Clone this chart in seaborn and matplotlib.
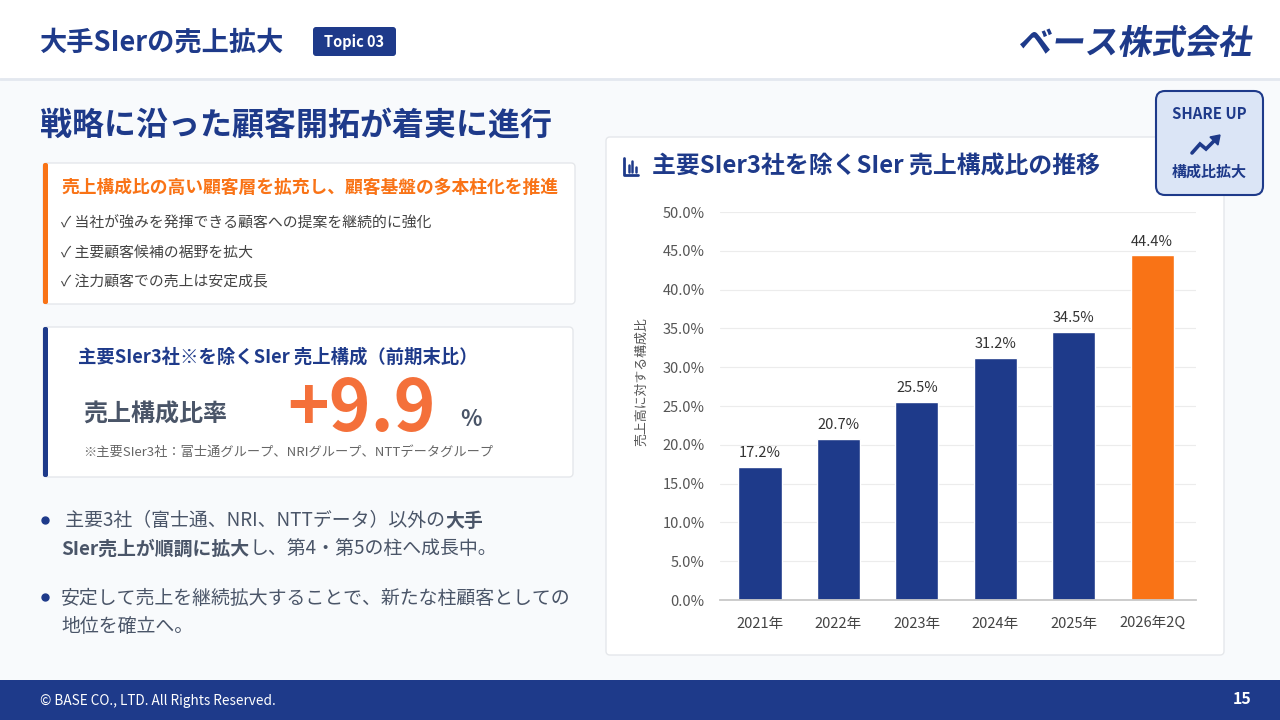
import numpy as np
import pandas as pd
import seaborn as sns
import matplotlib
matplotlib.use("Agg")
import matplotlib.pyplot as plt
from matplotlib.patches import FancyBboxPatch, Rectangle, PathPatch, Polygon
from matplotlib.textpath import TextPath
from matplotlib.font_manager import FontProperties
from matplotlib.transforms import Affine2D

# ---------------- data ----------------
periods = ["2021年", "2022年", "2023年", "2024年", "2025年", "2026年2Q"]
ratios = [17.2, 20.7, 25.5, 31.2, 34.5, 44.4]
bar_colors = ["#1e3a8a", "#1e3a8a", "#1e3a8a", "#1e3a8a", "#1e3a8a", "#f97316"]
y_ticks = [0, 5, 10, 15, 20, 25, 30, 35, 40, 45, 50]

slide_title = "大手SIerの売上拡大"
topic_label = "Topic 03"
logo_text = "ベース株式会社"
main_heading = "戦略に沿った顧客開拓が着実に進行"
box1_heading = "売上構成比の高い顧客層を拡充し、顧客基盤の多本柱化を推進"
box1_items = ["当社が強みを発揮できる顧客への提案を継続的に強化",
              "主要顧客候補の裾野を拡大",
              "注力顧客での売上は安定成長"]
box2_heading = "主要SIer3社※を除くSIer 売上構成（前期末比）"
box2_label = "売上構成比率"
box2_value = "+9.9"
box2_unit = "%"
box2_note = "※主要SIer3社：富士通グループ、NRIグループ、NTTデータグループ"
bullet1 = [[(" 主要3社（富士通、NRI、NTTデータ）以外の", False), ("大手", True)],
           [("SIer売上が順調に拡大", True), ("し、第4・第5の柱へ成長中。", False)]]
bullet2 = [[("安定して売上を継続拡大することで、新たな柱顧客としての", False)],
           [("地位を確立へ。", False)]]
chart_title = "主要SIer3社を除くSIer 売上構成比の推移"
y_label = "売上高に対する構成比"
badge_top = "SHARE UP"
badge_bottom = "構成比拡大"
footer_text = "© BASE CO., LTD. All Rights Reserved."
page_no = "15"

NAVY = "#1e3a8a"
ORANGE = "#f97316"
BIG_ORANGE = "#f4703a"
GRAY = "#4b5563"
FAM = ["Noto Sans CJK JP", "DejaVu Sans"]

sns.set_theme(style="white")
plt.rcParams["font.family"] = FAM

fig = plt.figure(figsize=(12.8, 7.2), dpi=100)
fig.patch.set_facecolor("#f8fafc")

bg = fig.add_axes([0, 0, 1, 1], zorder=0)
bg.set_xlim(0, 1280)
bg.set_ylim(720, 0)
bg.axis("off")
renderer = fig.canvas.get_renderer()


def rbox(x, y, w, h, fc, ec="none", lw=0, r=6, z=1):
    p = FancyBboxPatch((x, y), w, h, boxstyle=f"round,pad=0,rounding_size={r}",
                       fc=fc, ec=ec, lw=lw, zorder=z)
    bg.add_patch(p)
    return p


def txt(x, y, s, size, color, weight="normal", ha="left", va="center", **kw):
    return bg.text(x, y, s, fontsize=size, color=color, fontweight=weight,
                   ha=ha, va=va, family=FAM, zorder=5, **kw)


def rich(x, y, parts, size, color):
    for s, b in parts:
        t = txt(x, y, s, size, color, weight="bold" if b else "normal")
        x += t.get_window_extent(renderer).width


# header
bg.add_patch(Rectangle((0, 0), 1280, 78, fc="white", ec="none", zorder=1))
bg.plot([0, 1280], [78.5, 78.5], color="#e3e8ef", lw=2, zorder=2)
txt(40, 43, slide_title, 19.6, NAVY, "bold")
rbox(313, 27, 83, 29, NAVY, r=3, z=2)
txt(354.5, 42, topic_label, 10.5, "white", "bold", ha="center")

# logo
fp = FontProperties(family="Noto Sans CJK JP", weight="bold")
tp = TextPath((0, 0), logo_text, size=34, prop=fp)
ext = tp.get_extents()
sk = np.tan(np.radians(9))
wid = ext.width + sk * ext.height
tr = (Affine2D().translate(-ext.x0, -ext.y0).skew(sk, 0)
      .scale(237 / wid, 32 / ext.height).scale(1, -1).translate(1018, 57))
bg.add_patch(PathPatch(tr.transform_path(tp), fc=NAVY, ec="none", zorder=5))

# main heading
txt(40, 126, main_heading, 23, NAVY, "bold")

# box 1
rbox(43, 163, 532, 141, "white", "#e5e7eb", 1, r=4)
rbox(43, 163, 5, 141, ORANGE, r=2, z=2)
txt(61, 188, box1_heading, 12.8, ORANGE, "bold")
for i, it in enumerate(box1_items):
    txt(61, 224 + 28.5 * i, "✓ " + it, 10.7, "#444444")

# box 2
rbox(43, 327, 530, 150, "white", "#e5e7eb", 1, r=4)
rbox(43, 327, 5, 150, NAVY, r=2, z=2)
txt(78, 357, box2_heading, 13.2, NAVY, "bold")
txt(83, 415, box2_label, 17.3, "#4a5568", "bold")
txt(287, 410, box2_value, 51, BIG_ORANGE, "bold")
txt(460, 419, box2_unit, 16, "#4a5568", "bold")
txt(83, 452, box2_note, 9.5, "#666666")

# bullets
for by, lines in [(521, bullet1), (598, bullet2)]:
    bg.plot([45], [by - 1], "o", color=NAVY, ms=5, zorder=5)
    for j, ln in enumerate(lines):
        rich(61, by + 28 * j, ln, 13.6, "#4a5568")

# chart card
rbox(606, 137, 618, 518, "white", "#e5e7eb", 1, r=4)
# icon
bg.plot([624, 624, 638], [158, 175, 175], color=NAVY, lw=2, zorder=5, solid_capstyle="round")
for ix, ih in [(628.5, 7), (632, 11), (635.5, 5)]:
    bg.plot([ix, ix], [172, 172 - ih], color=NAVY, lw=1.8, zorder=5)
txt(652, 167, chart_title, 17.2, NAVY, "bold")

# share up badge
rbox(1156, 91, 107, 104, "#dbe5f6", NAVY, 1.5, r=9, z=3)
txt(1209.5, 114, badge_top, 10.8, NAVY, "bold", ha="center")
bg.plot([1192, 1200, 1206, 1216], [153, 144, 149, 139], color=NAVY, lw=2.6,
        zorder=5, solid_joinstyle="miter")
bg.add_patch(Polygon([[1220, 135], [1210, 137], [1218, 145]], closed=True,
                     fc=NAVY, ec=NAVY, lw=1, zorder=5))
txt(1209.5, 172, badge_bottom, 10.8, NAVY, "bold", ha="center")

# footer
bg.add_patch(Rectangle((0, 680), 1280, 40, fc="#1e3a8a", ec="none", zorder=1))
txt(40, 701, footer_text, 9.8, "white")
txt(1251, 699, page_no, 11.5, "white", "bold", ha="right")

# ---------------- chart ----------------
ax = fig.add_axes([720 / 1280, 120 / 720, 476 / 1280, 388 / 720], zorder=2)
ax.set_facecolor("none")
df = pd.DataFrame({"period": periods, "ratio": ratios})
sns.barplot(data=df, x="period", y="ratio", hue="period", palette=bar_colors,
            legend=False, width=0.55, saturation=1, ax=ax)
for cont, v in zip(ax.containers, ratios):
    ax.bar_label(cont, labels=[f"{v:.1f}%"], padding=5, fontsize=10.5,
                 color="#333333", family=FAM)
ax.set_ylim(0, 50)
ax.set_xlim(-0.51, 5.56)
ax.set_yticks(y_ticks)
ax.set_yticklabels([f"{t:.1f}%" for t in y_ticks])
ax.tick_params(axis="y", length=0, pad=11, labelsize=10.5, labelcolor="#555555")
ax.tick_params(axis="x", length=0, pad=12, labelsize=10.5, labelcolor="#444444")
ax.set_xlabel("")
ax.set_ylabel(y_label, fontsize=9.3, color="#555555")
ax.yaxis.set_label_coords(-0.15, 0.562)
ax.yaxis.grid(True, color="#ececec", lw=0.8)
ax.set_axisbelow(True)
for s in ["top", "right", "left"]:
    ax.spines[s].set_visible(False)
ax.spines["bottom"].set_color("#c8c8c8")
ax.spines["bottom"].set_linewidth(1.3)

fig.savefig("out.png", dpi=100, facecolor=fig.get_facecolor())
